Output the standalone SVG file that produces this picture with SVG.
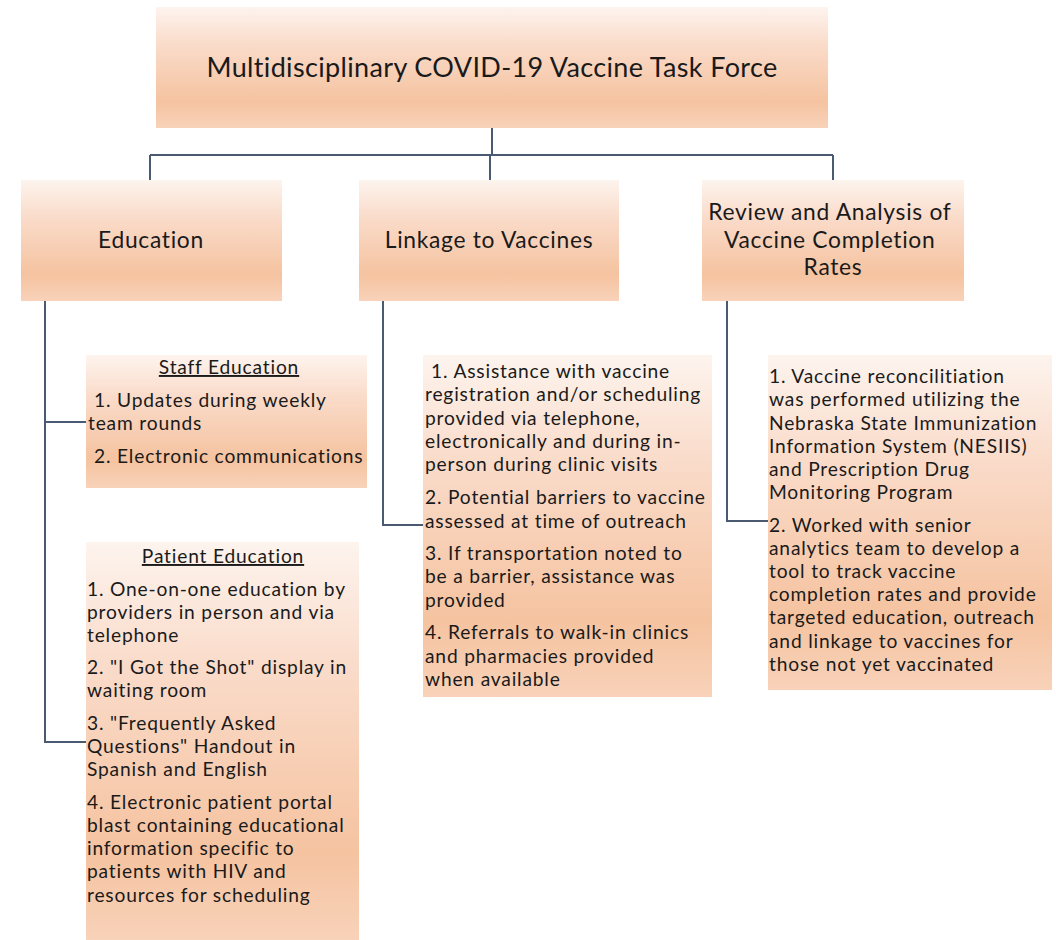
<svg xmlns="http://www.w3.org/2000/svg" width="1056" height="940" viewBox="0 0 1056 940">
  <defs>
    <linearGradient id="peach" x1="0" y1="0" x2="0" y2="1">
      <stop offset="0" stop-color="#fdf4ee"/>
      <stop offset="0.3" stop-color="#fadccb"/>
      <stop offset="0.78" stop-color="#f5c3a0"/>
      <stop offset="1" stop-color="#f8d2b9"/>
    </linearGradient>
    <style>
      .box { fill: url(#peach); }
      .link { fill: none; stroke: #4a5a72; stroke-width: 2; }
      .head { font-family: Lato, "Liberation Sans", sans-serif; font-size: 22.8px; letter-spacing: 0.7px; fill: #1a1a1a; text-anchor: middle; }
      .body { font-family: Lato, "Liberation Sans", sans-serif; font-size: 19.2px; letter-spacing: 0.82px; fill: #1a1a1a; }
      .title { text-anchor: middle; text-decoration: underline; }
    </style>
  </defs>
  <rect width="1056" height="940" fill="#ffffff"/>

  <!-- connectors -->
  <g id="connectors">
    <path class="link" d="M492,128 V155 M150,155 H833 M150,155 V180 M490,155 V180 M833,155 V180"/>
    <path class="link" d="M45,301 V742 H86 M45,422 H86"/>
    <path class="link" d="M383,301 V525 H424"/>
    <path class="link" d="M727,301 V521 H768"/>
  </g>

  <g id="task-force">
    <rect class="box" x="156" y="7" width="672" height="121"/>
    <text class="head" x="492" y="77" style="font-size:27px;letter-spacing:0.35px">Multidisciplinary COVID-19 Vaccine Task Force</text>
  </g>

  <g id="education">
    <rect class="box" x="21" y="180" width="261" height="121"/>
    <text class="head" x="151" y="248">Education</text>
  </g>

  <g id="linkage">
    <rect class="box" x="359" y="180" width="260" height="121"/>
    <text class="head" x="489" y="248">Linkage to Vaccines</text>
  </g>

  <g id="review">
    <rect class="box" x="702" y="180" width="262" height="121"/>
    <text class="head">
      <tspan x="833" y="220">Review and Analysis of</tspan>
      <tspan x="833" y="248">Vaccine Completion</tspan>
      <tspan x="833" y="275">Rates</tspan>
    </text>
  </g>

  <g id="staff-education">
    <rect class="box" x="86" y="355" width="281" height="133"/>
    <text class="body title" x="229" y="374">Staff Education</text>
    <text class="body">
      <tspan x="94" y="407">1. Updates during weekly</tspan>
      <tspan x="88" y="430">team rounds</tspan>
      <tspan x="94" y="463">2. Electronic communications</tspan>
    </text>
  </g>

  <g id="patient-education">
    <rect class="box" x="86" y="542" width="273" height="398"/>
    <text class="body title" x="223" y="563">Patient Education</text>
    <text class="body">
      <tspan x="87" y="596">1. One-on-one education by</tspan>
      <tspan x="87" y="619">providers in person and via</tspan>
      <tspan x="87" y="642">telephone</tspan>
      <tspan x="87" y="674">2. "I Got the Shot" display in</tspan>
      <tspan x="87" y="697">waiting room</tspan>
      <tspan x="87" y="730">3. "Frequently Asked</tspan>
      <tspan x="87" y="753">Questions" Handout in</tspan>
      <tspan x="87" y="776">Spanish and English</tspan>
      <tspan x="87" y="809">4. Electronic patient portal</tspan>
      <tspan x="87" y="832">blast containing educational</tspan>
      <tspan x="87" y="855">information specific to</tspan>
      <tspan x="87" y="878">patients with HIV and</tspan>
      <tspan x="87" y="902">resources for scheduling</tspan>
    </text>
  </g>

  <g id="linkage-steps">
    <rect class="box" x="423" y="355" width="289" height="342"/>
    <text class="body">
      <tspan x="431" y="378">1. Assistance with vaccine</tspan>
      <tspan x="425" y="401">registration and/or scheduling</tspan>
      <tspan x="425" y="425">provided via telephone,</tspan>
      <tspan x="425" y="448">electronically and during in-</tspan>
      <tspan x="425" y="471">person during clinic visits</tspan>
      <tspan x="425" y="504">2. Potential barriers to vaccine</tspan>
      <tspan x="425" y="528">assessed at time of outreach</tspan>
      <tspan x="425" y="560">3. If transportation noted to</tspan>
      <tspan x="425" y="583">be a barrier, assistance was</tspan>
      <tspan x="425" y="607">provided</tspan>
      <tspan x="425" y="639">4. Referrals to walk-in clinics</tspan>
      <tspan x="425" y="663">and pharmacies provided</tspan>
      <tspan x="425" y="686">when available</tspan>
    </text>
  </g>

  <g id="review-steps">
    <rect class="box" x="768" y="355" width="284" height="335"/>
    <text class="body">
      <tspan x="769" y="383">1. Vaccine reconcilitiation</tspan>
      <tspan x="769" y="406">was performed utilizing the</tspan>
      <tspan x="769" y="430">Nebraska State Immunization</tspan>
      <tspan x="769" y="453">Information System (NESIIS)</tspan>
      <tspan x="769" y="476">and Prescription Drug</tspan>
      <tspan x="769" y="499">Monitoring Program</tspan>
      <tspan x="769" y="532">2. Worked with senior</tspan>
      <tspan x="769" y="555">analytics team to develop a</tspan>
      <tspan x="769" y="578">tool to track vaccine</tspan>
      <tspan x="769" y="601">completion rates and provide</tspan>
      <tspan x="769" y="624">targeted education, outreach</tspan>
      <tspan x="769" y="648">and linkage to vaccines for</tspan>
      <tspan x="769" y="671">those not yet vaccinated</tspan>
    </text>
  </g>
</svg>
